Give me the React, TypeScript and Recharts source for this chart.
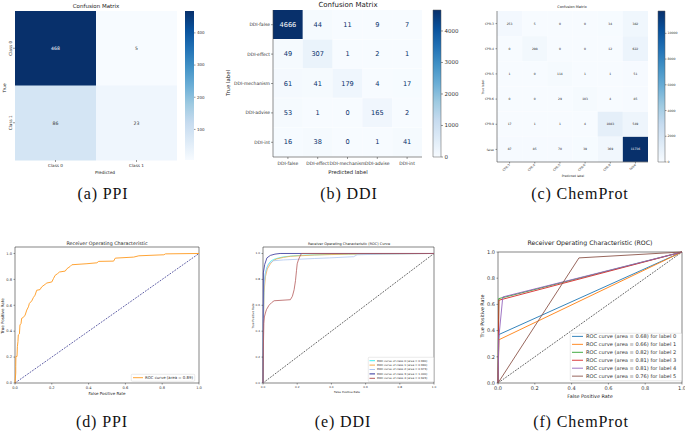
import React from 'react';
import {
  BarChart, Bar, XAxis, YAxis, Cell, LabelList, LineChart, Line,
  ReferenceArea, Legend,
} from 'recharts';

const FONT = '"DejaVu Sans", sans-serif';
const SERIF = '"Liberation Serif", "DejaVu Serif", serif';

// ---------- (a) PPI confusion matrix ----------
const ppiLabels = ['Class 0', 'Class 1'];
const ppiMatrix = [
  [468, 5],
  [86, 23],
];
const ppiBarTicks = [100, 200, 300, 400];

// ---------- (b) DDI confusion matrix ----------
const ddiLabels = ['DDI-false', 'DDI-effect', 'DDI-mechanism', 'DDI-advise', 'DDI-int'];
const ddiMatrix = [
  [4666, 44, 11, 9, 7],
  [49, 307, 1, 2, 1],
  [61, 41, 179, 4, 17],
  [53, 1, 0, 165, 2],
  [16, 38, 0, 1, 41],
];
const ddiBarTicks = [0, 1000, 2000, 3000, 4000];

// ---------- (c) ChemProt confusion matrix ----------
const chemLabels = ['CPR:3', 'CPR:4', 'CPR:5', 'CPR:6', 'CPR:9', 'false'];
const chemMatrix = [
  [253, 5, 0, 0, 34, 382],
  [0, 298, 0, 0, 12, 622],
  [1, 0, 114, 1, 1, 51],
  [0, 0, 29, 103, 4, 85],
  [17, 1, 1, 4, 1083, 549],
  [87, 85, 70, 39, 369, 11736],
];
const chemBarTicks = [0, 2000, 4000, 6000, 8000, 10000];

// ---------- ROC ticks ----------
const rocTicks = [0, 0.2, 0.4, 0.6, 0.8, 1.0];
const diagonal = [{ x: 0, y: 0 }, { x: 1, y: 1 }];

// ---------- (d) PPI ROC ----------
const ppiRoc = [
  { x: 0, y: 0 }, { x: 0.002, y: 0.038 }, { x: 0.004, y: 0.077 }, { x: 0.004, y: 0.128 },
  { x: 0.005, y: 0.205 }, { x: 0.011, y: 0.205 }, { x: 0.013, y: 0.281 }, { x: 0.016, y: 0.32 },
  { x: 0.018, y: 0.371 }, { x: 0.024, y: 0.379 }, { x: 0.027, y: 0.448 }, { x: 0.033, y: 0.46 },
  { x: 0.036, y: 0.499 }, { x: 0.045, y: 0.506 }, { x: 0.055, y: 0.524 }, { x: 0.064, y: 0.563 },
  { x: 0.073, y: 0.588 }, { x: 0.078, y: 0.614 }, { x: 0.091, y: 0.634 }, { x: 0.1, y: 0.66 },
  { x: 0.109, y: 0.678 }, { x: 0.118, y: 0.716 }, { x: 0.136, y: 0.721 }, { x: 0.145, y: 0.742 },
  { x: 0.164, y: 0.762 }, { x: 0.173, y: 0.772 }, { x: 0.2, y: 0.78 }, { x: 0.209, y: 0.806 },
  { x: 0.218, y: 0.831 }, { x: 0.231, y: 0.844 }, { x: 0.242, y: 0.857 }, { x: 0.273, y: 0.864 },
  { x: 0.282, y: 0.882 }, { x: 0.3, y: 0.9 }, { x: 0.309, y: 0.913 }, { x: 0.391, y: 0.921 },
  { x: 0.445, y: 0.928 }, { x: 0.455, y: 0.939 }, { x: 0.536, y: 0.941 }, { x: 0.545, y: 0.964 },
  { x: 0.645, y: 0.972 }, { x: 0.673, y: 0.982 }, { x: 0.809, y: 0.99 }, { x: 0.818, y: 0.997 },
  { x: 1, y: 1 },
];

// ---------- (e) DDI ROC ----------
const ddiRoc0 = [
  { x: 0, y: 0 }, { x: 0.001, y: 0.3 }, { x: 0.004, y: 0.64 }, { x: 0.008, y: 0.78 },
  { x: 0.014, y: 0.85 }, { x: 0.022, y: 0.89 }, { x: 0.033, y: 0.92 }, { x: 0.045, y: 0.94 },
  { x: 0.062, y: 0.954 }, { x: 0.09, y: 0.965 }, { x: 0.12, y: 0.974 }, { x: 0.18, y: 0.982 },
  { x: 0.24, y: 0.987 }, { x: 0.4, y: 0.993 }, { x: 0.6, y: 0.997 }, { x: 1, y: 1 },
];
const ddiRoc1 = [
  { x: 0, y: 0 }, { x: 0.002, y: 0.4 }, { x: 0.006, y: 0.7 }, { x: 0.014, y: 0.82 },
  { x: 0.025, y: 0.88 }, { x: 0.043, y: 0.92 }, { x: 0.06, y: 0.945 }, { x: 0.08, y: 0.958 },
  { x: 0.12, y: 0.97 }, { x: 0.16, y: 0.978 }, { x: 0.3, y: 0.988 }, { x: 0.5, y: 0.995 },
  { x: 1, y: 1 },
];
const ddiRoc2 = [
  { x: 0, y: 0 }, { x: 0.002, y: 0.45 }, { x: 0.006, y: 0.75 }, { x: 0.014, y: 0.85 },
  { x: 0.03, y: 0.915 }, { x: 0.062, y: 0.944 }, { x: 0.12, y: 0.95 }, { x: 0.2, y: 0.955 },
  { x: 0.3, y: 0.961 }, { x: 0.39, y: 0.966 }, { x: 0.53, y: 0.975 }, { x: 0.55, y: 0.99 },
  { x: 0.7, y: 0.995 }, { x: 1, y: 1 },
];
const ddiRoc3 = [
  { x: 0, y: 0 }, { x: 0.001, y: 0.5 }, { x: 0.002, y: 0.85 }, { x: 0.01, y: 0.915 },
  { x: 0.023, y: 0.966 }, { x: 0.043, y: 0.985 }, { x: 0.07, y: 0.995 }, { x: 0.1, y: 1 },
  { x: 1, y: 1 },
];
const ddiRoc4 = [
  { x: 0, y: 0 }, { x: 0.002, y: 0.26 }, { x: 0.005, y: 0.46 }, { x: 0.008, y: 0.51 },
  { x: 0.014, y: 0.54 }, { x: 0.02, y: 0.566 }, { x: 0.035, y: 0.6 }, { x: 0.05, y: 0.62 },
  { x: 0.065, y: 0.635 }, { x: 0.16, y: 0.643 }, { x: 0.172, y: 0.67 }, { x: 0.182, y: 0.72 },
  { x: 0.19, y: 0.79 }, { x: 0.196, y: 0.87 }, { x: 0.2, y: 0.92 }, { x: 0.207, y: 0.95 },
  { x: 0.215, y: 0.975 }, { x: 0.225, y: 1 }, { x: 1, y: 1 },
];
const ddiRocNames = [
  'ROC curve of class 0 (area = 0.990)',
  'ROC curve of class 1 (area = 0.990)',
  'ROC curve of class 2 (area = 0.973)',
  'ROC curve of class 3 (area = 1.000)',
  'ROC curve of class 4 (area = 0.923)',
];
const ddiRocColors = ['#3ff0f0', '#f6a94a', '#aec6f0', '#2e2e98', '#b45a5a'];

// ---------- (f) ChemProt ROC ----------
const chemRoc0 = [{ x: 0, y: 0 }, { x: 0.005, y: 0.37 }, { x: 1, y: 1 }];
const chemRoc1 = [{ x: 0, y: 0 }, { x: 0.005, y: 0.33 }, { x: 1, y: 1 }];
const chemRoc2 = [{ x: 0, y: 0 }, { x: 0.004, y: 0.644 }, { x: 1, y: 1 }];
const chemRoc3 = [{ x: 0, y: 0 }, { x: 0.005, y: 0.632 }, { x: 1, y: 1 }];
const chemRoc4 = [{ x: 0, y: 0 }, { x: 0.004, y: 0.34 }, { x: 0.026, y: 0.657 }, { x: 1, y: 1 }];
const chemRoc5 = [{ x: 0, y: 0 }, { x: 0.44, y: 0.955 }, { x: 1, y: 1 }];
const chemRocNames = [
  'ROC curve (area = 0.68) for label 0',
  'ROC curve (area = 0.66) for label 1',
  'ROC curve (area = 0.82) for label 2',
  'ROC curve (area = 0.81) for label 3',
  'ROC curve (area = 0.81) for label 4',
  'ROC curve (area = 0.76) for label 5',
];
const chemRocColors = ['#1f77b4', '#ff7f0e', '#2ca02c', '#d62728', '#9467bd', '#8c564b'];

// ---------- Blues colormap ----------
const BLUES = ['#f7fbff', '#deebf7', '#c6dbef', '#9ecae1', '#6baed6', '#4292c6', '#2171b5', '#08519c', '#08306b'];
function hexRgb(h: string) {
  return [parseInt(h.slice(1, 3), 16), parseInt(h.slice(3, 5), 16), parseInt(h.slice(5, 7), 16)];
}
function blues(t: number) {
  const c = Math.max(0, Math.min(1, t));
  const p = c * (BLUES.length - 1);
  const i = Math.min(BLUES.length - 2, Math.floor(p));
  const f = p - i;
  const a = hexRgb(BLUES[i]);
  const b = hexRgb(BLUES[i + 1]);
  const m = a.map((v, k) => Math.round(v + (b[k] - v) * f));
  return `rgb(${m[0]},${m[1]},${m[2]})`;
}

type Box = { x0: number; x1: number; y0: number; y1: number };

const RotYTick = (props: any) => {
  const { x, y, payload, fs } = props;
  const xx = Number(x);
  const yy = Number(y);
  return (
    <text x={xx} y={yy} transform={`rotate(-90 ${xx} ${yy})`} textAnchor="middle" fontSize={fs} fill="#333">
      {payload.value}
    </text>
  );
};

const RotXTick = (props: any) => {
  const { x, y, payload, fs, labels } = props;
  const xx = Number(x);
  const yy = Number(y);
  return (
    <text x={xx} y={yy} dy="0.3em" transform={`rotate(-45 ${xx} ${yy})`} textAnchor="end" fontSize={fs} fill="#333">
      {labels[Math.floor(payload.value)]}
    </text>
  );
};

type HeatProps = {
  left: number; top: number; width: number; height: number; plot: Box;
  rows: string[]; cols: string[]; matrix: number[][]; vmin: number; vmax: number;
  cellFont: number; textColor: string; threshold: number;
  tickFont: number; frame: boolean; rotateY?: boolean; rotateX?: boolean;
  xTickSize: number; xTickMargin: number; yTickSize: number; yTickMargin: number;
};

function Heatmap(p: HeatProps) {
  const { left, top, width, height, plot, rows, cols, matrix, vmin, vmax } = p;
  const data = rows.map((r, i) => {
    const o: Record<string, any> = { row: r };
    cols.forEach((_, j) => {
      o['c' + j] = 1;
      o['v' + j] = matrix[i][j];
    });
    return o;
  });
  const margin = { top: plot.y0 - top, left: 0, right: left + width - plot.x1, bottom: 0 };
  const yW = plot.x0 - left;
  const xH = top + height - plot.y1;
  const frameLine = { stroke: '#444', strokeWidth: 0.6 };
  const tickLine = { stroke: '#333', strokeWidth: 0.5 };
  const CellLabel = (props: any) => {
    const vb = props.viewBox || {};
    const x = Number(vb.x ?? props.x);
    const y = Number(vb.y ?? props.y);
    const w = Number(vb.width ?? props.width);
    const h = Number(vb.height ?? props.height);
    const value = Number(props.value);
    const t = (value - vmin) / (vmax - vmin);
    return (
      <text x={x + w / 2} y={y + h / 2} dy="0.36em" textAnchor="middle" fontSize={p.cellFont}
        fill={t > p.threshold ? '#ffffff' : p.textColor} fontFamily={FONT}>
        {value}
      </text>
    );
  };
  return (
    <div style={{ position: 'absolute', left, top, fontFamily: FONT }}>
      <BarChart layout="vertical" width={width} height={height} data={data} margin={margin}
        barCategoryGap={0} barGap={0}>
        <XAxis type="number" domain={[0, cols.length]} ticks={cols.map((_, j) => j + 0.5)}
          tickFormatter={(v: number) => cols[Math.floor(v)]} interval={0} height={xH}
          tickSize={p.xTickSize} tickMargin={p.xTickMargin}
          axisLine={p.frame ? frameLine : false} tickLine={tickLine}
          tick={p.rotateX ? <RotXTick fs={p.tickFont} labels={cols} /> : { fontSize: p.tickFont, fill: '#333' }} />
        <YAxis type="category" dataKey="row" width={yW} interval={0}
          tickSize={p.yTickSize} tickMargin={p.yTickMargin}
          axisLine={p.frame ? frameLine : false} tickLine={tickLine}
          tick={p.rotateY ? <RotYTick fs={p.tickFont} /> : { fontSize: p.tickFont, fill: '#333' }} />
        {p.frame && (
          <XAxis xAxisId="top" orientation="top" type="number" domain={[0, 1]} height={0}
            tick={false} tickLine={false} axisLine={frameLine} />
        )}
        {p.frame && (
          <YAxis yAxisId="right" orientation="right" type="number" domain={[0, 1]} width={0}
            tick={false} tickLine={false} axisLine={frameLine} />
        )}
        {cols.map((c, j) => (
          <Bar key={c} dataKey={'c' + j} stackId="cm" isAnimationActive={false}>
            {rows.map((r, i) => (
              <Cell key={r} fill={blues((matrix[i][j] - vmin) / (vmax - vmin))} />
            ))}
            <LabelList dataKey={'v' + j} content={CellLabel} />
          </Bar>
        ))}
      </BarChart>
    </div>
  );
}

type CbProps = {
  id: string; left: number; top: number; width: number; height: number; plot: Box;
  vmin: number; vmax: number; ticks: number[]; fontSize: number; outline: boolean;
  tickSize: number; tickMargin: number;
};

function Colorbar(p: CbProps) {
  const margin = { top: p.plot.y0 - p.top, bottom: p.top + p.height - p.plot.y1, left: p.plot.x0 - p.left, right: 0 };
  const axisW = p.left + p.width - p.plot.x1;
  const data = [{ name: 'scale', range: [p.vmin, p.vmax] }];
  return (
    <div style={{ position: 'absolute', left: p.left, top: p.top, fontFamily: FONT }}>
      <BarChart width={p.width} height={p.height} margin={margin} data={data} barCategoryGap={0}>
        <defs>
          <linearGradient id={p.id} x1="0" y1="1" x2="0" y2="0">
            {BLUES.map((c, i) => (
              <stop key={i} offset={i / (BLUES.length - 1)} stopColor={c} />
            ))}
          </linearGradient>
        </defs>
        <XAxis type="category" dataKey="name" hide />
        <YAxis orientation="right" type="number" domain={[p.vmin, p.vmax]} ticks={p.ticks} width={axisW}
          interval={0} tickSize={p.tickSize} tickMargin={p.tickMargin} axisLine={false}
          tick={{ fontSize: p.fontSize, fill: '#333' }} tickLine={{ stroke: '#333', strokeWidth: 0.5 }} />
        <Bar dataKey="range" fill={`url(#${p.id})`} stroke={p.outline ? '#555' : 'none'} strokeWidth={0.5}
          isAnimationActive={false} />
      </BarChart>
    </div>
  );
}

type LegendCfg = {
  left: number; top: number; w: number; h: number; firstY: number; rowH: number;
  lineX0: number; lineX1: number; textX: number; font: number; lw: number;
};

const makeLegend = (cfg: LegendCfg, order: string[]) => (props: any) => {
  const items = (props.payload || [])
    .filter((it: any) => it.type !== 'none' && order.indexOf(it.value) >= 0)
    .slice()
    .sort((a: any, b: any) => order.indexOf(a.value) - order.indexOf(b.value));
  return (
    <svg width={cfg.w} height={cfg.h} style={{ display: 'block', overflow: 'visible' }}>
      <rect x={0.25} y={0.25} width={cfg.w - 0.5} height={cfg.h - 0.5} rx={1} fill="#ffffff" fillOpacity={0.85}
        stroke="#d2d2d2" strokeWidth={0.5} />
      {items.map((it: any, i: number) => {
        const y = cfg.firstY + i * cfg.rowH;
        return (
          <g key={i}>
            <line x1={cfg.lineX0} x2={cfg.lineX1} y1={y} y2={y} stroke={it.color} strokeWidth={cfg.lw} />
            <text x={cfg.textX} y={y} dy="0.35em" fontSize={cfg.font} fill="#333" fontFamily={FONT}>
              {it.value}
            </text>
          </g>
        );
      })}
    </svg>
  );
};

type RocSeries = { name: string; color: string; data: { x: number; y: number }[] };

type RocProps = {
  left: number; top: number; width: number; height: number; plot: Box; ymax: number;
  series: RocSeries[]; lineWidth: number; diagColor: string; tickFont: number;
  xTickMargin: number; yTickMargin: number; legend: LegendCfg;
};

function Roc(p: RocProps) {
  const margin = { top: p.plot.y0 - p.top, left: 0, right: p.left + p.width - p.plot.x1, bottom: 0 };
  const yW = p.plot.x0 - p.left;
  const xH = p.top + p.height - p.plot.y1;
  const tickLine = { stroke: '#333', strokeWidth: 0.5 };
  const fmt = (v: number) => v.toFixed(1);
  const order = p.series.map((s) => s.name);
  return (
    <div style={{ position: 'absolute', left: p.left, top: p.top, fontFamily: FONT }}>
      <LineChart width={p.width} height={p.height} margin={margin}>
        <XAxis type="number" dataKey="x" domain={[0, 1]} ticks={rocTicks} tickFormatter={fmt} interval={0}
          height={xH} tickSize={1.5} tickMargin={p.xTickMargin} axisLine={false} tickLine={tickLine}
          tick={{ fontSize: p.tickFont, fill: '#333' }} />
        <YAxis type="number" domain={[0, p.ymax]} ticks={rocTicks} tickFormatter={fmt} interval={0}
          width={yW} tickSize={1.5} tickMargin={p.yTickMargin} axisLine={false} tickLine={tickLine}
          tick={{ fontSize: p.tickFont, fill: '#333' }} />
        <ReferenceArea x1={0} x2={1} y1={0} y2={p.ymax} fill="none" stroke="#333" strokeWidth={0.6} />
        <Line data={diagonal} dataKey="y" stroke={p.diagColor} strokeWidth={0.7} strokeDasharray="1.8 1.2"
          dot={false} legendType="none" isAnimationActive={false} />
        {p.series.map((s) => (
          <Line key={s.name} data={s.data} dataKey="y" name={s.name} stroke={s.color} strokeWidth={p.lineWidth}
            dot={false} isAnimationActive={false} />
        ))}
        <Legend verticalAlign="middle" align="center" layout="horizontal" content={makeLegend(p.legend, order)}
          wrapperStyle={{ left: p.legend.left, top: p.legend.top, width: p.legend.w, height: p.legend.h, right: 'auto', bottom: 'auto', margin: 0 }} />
      </LineChart>
    </div>
  );
}

const T = (props: { x: number; y: number; s: number; rot?: number; serif?: boolean; children: React.ReactNode }) => (
  <text x={props.x} y={props.y} fontSize={props.s} textAnchor="middle" dominantBaseline="central"
    transform={props.rot ? `rotate(${props.rot} ${props.x} ${props.y})` : undefined}
    fill={props.serif ? '#111' : '#222'} fontFamily={props.serif ? SERIF : FONT}
    letterSpacing={props.serif ? 0.9 : 0}>
    {props.children}
  </text>
);

export default function App() {
  return (
    <div style={{ position: 'absolute', left: 0, top: 0, width: 685, height: 431, background: '#ffffff', overflow: 'hidden' }}>
      <Heatmap left={0} top={0} width={180} height={180} plot={{ x0: 15, x1: 177, y0: 11, y1: 160 }}
        rows={ppiLabels} cols={ppiLabels} matrix={ppiMatrix} vmin={5} vmax={468}
        cellFont={4.6} textColor="#333" threshold={0.5} tickFont={4.2} frame={false} rotateY
        xTickSize={2} xTickMargin={2} yTickSize={2} yTickMargin={1} />
      <Colorbar id="cbA" left={175} top={0} width={40} height={180} plot={{ x0: 185, x1: 194, y0: 11, y1: 160 }}
        vmin={5} vmax={468} ticks={ppiBarTicks} fontSize={4} outline={false} tickSize={1.5} tickMargin={1.5} />

      <Heatmap left={230} top={0} width={200} height={180} plot={{ x0: 273, x1: 422, y0: 10, y1: 157 }}
        rows={ddiLabels} cols={ddiLabels} matrix={ddiMatrix} vmin={0} vmax={4666}
        cellFont={6.6} textColor="#08306b" threshold={0.5} tickFont={4.5} frame
        xTickSize={2} xTickMargin={3} yTickSize={2} yTickMargin={1} />
      <Colorbar id="cbB" left={425} top={0} width={40} height={180} plot={{ x0: 433, x1: 441, y0: 10, y1: 157 }}
        vmin={0} vmax={4666} ticks={ddiBarTicks} fontSize={5.5} outline tickSize={2} tickMargin={1.5} />

      <Heatmap left={455} top={0} width={200} height={185} plot={{ x0: 497, x1: 648, y0: 11, y1: 162 }}
        rows={chemLabels} cols={chemLabels} matrix={chemMatrix} vmin={0} vmax={11736}
        cellFont={3} textColor="#222" threshold={0.5} tickFont={3.1} frame rotateX
        xTickSize={1.5} xTickMargin={1} yTickSize={1.5} yTickMargin={1.5} />
      <Colorbar id="cbC" left={650} top={0} width={35} height={185} plot={{ x0: 658, x1: 665, y0: 11, y1: 162 }}
        vmin={0} vmax={11736} ticks={chemBarTicks} fontSize={3.2} outline tickSize={1.5} tickMargin={1} />

      <Roc left={0} top={230} width={225} height={170} plot={{ x0: 15, x1: 199, y0: 247, y1: 383 }} ymax={1.05}
        series={[{ name: 'ROC curve (area = 0.89)', color: '#ff9a1f', data: ppiRoc }]}
        lineWidth={0.9} diagColor="#1a1a80" tickFont={3.6} xTickMargin={2} yTickMargin={1.5}
        legend={{ left: 131, top: 144, w: 64, h: 7.5, firstY: 3.7, rowH: 4, lineX0: 2, lineX1: 12, textX: 14, font: 3.9, lw: 0.9 }} />

      <Roc left={240} top={230} width={205} height={170} plot={{ x0: 263, x1: 434, y0: 247, y1: 383 }} ymax={1.05}
        series={[ddiRoc0, ddiRoc1, ddiRoc2, ddiRoc3, ddiRoc4].map((d, i) => ({ name: ddiRocNames[i], color: ddiRocColors[i], data: d }))}
        lineWidth={0.8} diagColor="#222" tickFont={2.8} xTickMargin={2} yTickMargin={1.5}
        legend={{ left: 128, top: 127, w: 66, h: 25, firstY: 3.7, rowH: 4.4, lineX0: 1.5, lineX1: 7, textX: 9, font: 2.8, lw: 1 }} />

      <Roc left={460} top={230} width={225} height={170} plot={{ x0: 498, x1: 682, y0: 252, y1: 383 }} ymax={1}
        series={[chemRoc0, chemRoc1, chemRoc2, chemRoc3, chemRoc4, chemRoc5].map((d, i) => ({ name: chemRocNames[i], color: chemRocColors[i], data: d }))}
        lineWidth={0.9} diagColor="#222" tickFont={5} xTickMargin={1.5} yTickMargin={1.5}
        legend={{ left: 110, top: 103, w: 112, h: 48, firstY: 3.4, rowH: 7.95, lineX0: 2, lineX1: 13, textX: 16, font: 5.1, lw: 0.9 }} />

      <svg width={685} height={431} style={{ position: 'absolute', left: 0, top: 0, pointerEvents: 'none' }}>
        <T x={96} y={6} s={5.5}>Confusion Matrix</T>
        <T x={4} y={88} s={4.3} rot={-90}>True</T>
        <T x={105} y={172} s={4.3}>Predicted</T>
        <T x={348} y={4.5} s={7}>Confusion Matrix</T>
        <T x={228} y={83} s={5.3} rot={-90}>True label</T>
        <T x={348} y={172} s={5.3}>Predicted label</T>
        <T x={572} y={7} s={3.5}>Confusion Matrix</T>
        <T x={483} y={87} s={3} rot={-90}>True label</T>
        <T x={573} y={176} s={3}>Predicted label</T>
        <T x={107} y={243} s={4.8}>Receiver Operating Characteristic</T>
        <T x={107} y={393} s={4}>False Positive Rate</T>
        <T x={2.7} y={316} s={4} rot={-90}>True Positive Rate</T>
        <T x={349} y={244} s={3.5}>Receiver Operating Characteristic (ROC) Curve</T>
        <T x={347} y={392} s={2.8}>False Positive Rate</T>
        <T x={253} y={316} s={2.8} rot={-90}>True Positive Rate</T>
        <T x={590} y={242} s={6.2}>Receiver Operating Characteristic (ROC)</T>
        <T x={590} y={396} s={4.9}>False Positive Rate</T>
        <T x={482} y={316} s={4.8} rot={-90}>True Positive Rate</T>
        <T x={103} y={193} s={16} serif>(a) PPI</T>
        <T x={349} y={193} s={16} serif>(b) DDI</T>
        <T x={580} y={193} s={16} serif>(c) ChemProt</T>
        <T x={102} y={421} s={16} serif>(d) PPI</T>
        <T x={343} y={421} s={16} serif>(e) DDI</T>
        <T x={581} y={421} s={16} serif>(f) ChemProt</T>
      </svg>
    </div>
  );
}
